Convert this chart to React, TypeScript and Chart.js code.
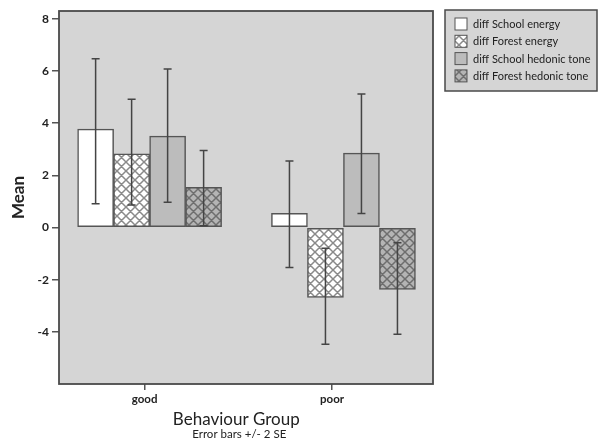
import React, { useEffect, useRef } from "react";
import { Chart, registerables } from "chart.js";

Chart.register(...registerables);

const categories = ["good", "poor"];
const seriesNames = [
  "diff School energy",
  "diff Forest energy",
  "diff School hedonic tone",
  "diff Forest hedonic tone",
];
const schoolEnergy = [3.77, 0.54];
const forestEnergy = [2.82, -2.68];
const schoolHedonic = [3.5, 2.85];
const forestHedonic = [1.54, -2.37];

// error bar bounds (+/- 2 SE)
const schoolEnergyLo = [0.91, -1.53];
const schoolEnergyHi = [6.47, 2.55];
const forestEnergyLo = [0.86, -4.48];
const forestEnergyHi = [4.92, -0.8];
const schoolHedonicLo = [0.97, 0.54];
const schoolHedonicHi = [6.08, 5.12];
const forestHedonicLo = [0.07, -4.09];
const forestHedonicHi = [2.95, -0.58];

const yTickValues = [-4, -2, 0, 2, 4, 6, 8];
const xTickValues = [-0.026, 0.941];

const FONT = "Lato, 'DejaVu Sans', sans-serif";

function makeHatch(bg: string, line: string): CanvasPattern | string {
  const s = 9;
  const c = document.createElement("canvas");
  c.width = s;
  c.height = s;
  const g = c.getContext("2d");
  if (!g) return bg;
  g.fillStyle = bg;
  g.fillRect(0, 0, s, s);
  g.strokeStyle = line;
  g.lineWidth = 1.5;
  g.beginPath();
  for (const o of [-s, 0, s]) {
    g.moveTo(o, 0);
    g.lineTo(o + s, s);
    g.moveTo(o + s, 0);
    g.lineTo(o, s);
  }
  g.stroke();
  return g.createPattern(c, "repeat") || bg;
}

export default function App() {
  const ref = useRef<HTMLCanvasElement | null>(null);

  useEffect(() => {
    if (!ref.current) return;
    const fills = [
      "#ffffff",
      makeHatch("#ffffff", "#8a8a8a"),
      "#bcbcbc",
      makeHatch("#b4b4b4", "#6e6e6e"),
    ];
    const values = [schoolEnergy, forestEnergy, schoolHedonic, forestHedonic];
    const los = [schoolEnergyLo, forestEnergyLo, schoolHedonicLo, forestHedonicLo];
    const his = [schoolEnergyHi, forestEnergyHi, schoolHedonicHi, forestHedonicHi];

    const plotBg = {
      id: "plotBg",
      beforeDraw(chart: any) {
        const { ctx, chartArea } = chart;
        const { left, top, right, bottom } = chartArea;
        ctx.save();
        ctx.fillStyle = "#d5d5d5";
        ctx.fillRect(left, top, right - left, bottom - top);
        ctx.restore();
      },
      afterDraw(chart: any) {
        const { ctx, chartArea } = chart;
        const { left, top, right, bottom } = chartArea;
        ctx.save();
        ctx.strokeStyle = "#4a4a4a";
        ctx.lineWidth = 1.8;
        ctx.strokeRect(left, top, right - left, bottom - top);

        // legend box
        const lx = 445, ly = 10, lw = 152, lh = 81;
        ctx.fillStyle = "#d5d5d5";
        ctx.fillRect(lx, ly, lw, lh);
        ctx.strokeStyle = "#4a4a4a";
        ctx.lineWidth = 1.5;
        ctx.strokeRect(lx, ly, lw, lh);
        ctx.font = `11px ${FONT}`;
        ctx.textBaseline = "middle";
        ctx.textAlign = "left";
        seriesNames.forEach((name, i) => {
          const cy = 24 + i * 17.3;
          ctx.fillStyle = fills[i] as any;
          ctx.fillRect(455, cy - 6, 12, 12);
          ctx.strokeStyle = "#555";
          ctx.lineWidth = 1;
          ctx.strokeRect(455, cy - 6, 12, 12);
          ctx.fillStyle = "#222";
          ctx.fillText(name, 473, cy + 0.5);
        });

        // x titles centred between the category ticks
        const xs = chart.scales.x;
        const cx = (xs.getPixelForValue(xTickValues[0]) + xs.getPixelForValue(xTickValues[1])) / 2;
        ctx.fillStyle = "#222";
        ctx.textAlign = "center";
        ctx.font = `17px ${FONT}`;
        ctx.fillText("Behaviour Group", cx - 2, 420);
        ctx.font = `11.5px ${FONT}`;
        ctx.fillText("Error bars +/- 2 SE", cx + 1, 434);
        ctx.restore();
      },
    };

    const errorBars = {
      id: "errorBars",
      afterDatasetsDraw(chart: any) {
        const { ctx } = chart;
        const ys = chart.scales.y;
        ctx.save();
        ctx.strokeStyle = "#444";
        ctx.lineWidth = 1.5;
        chart.data.datasets.forEach((_: any, i: number) => {
          const meta = chart.getDatasetMeta(i);
          meta.data.forEach((bar: any, j: number) => {
            const x = bar.x;
            const y1 = ys.getPixelForValue(los[i][j]);
            const y2 = ys.getPixelForValue(his[i][j]);
            ctx.beginPath();
            ctx.moveTo(x, y1);
            ctx.lineTo(x, y2);
            ctx.moveTo(x - 4, y1);
            ctx.lineTo(x + 4, y1);
            ctx.moveTo(x - 4, y2);
            ctx.lineTo(x + 4, y2);
            ctx.stroke();
          });
        });
        ctx.restore();
      },
    };

    const chart = new Chart(ref.current, {
      type: "bar",
      data: {
        datasets: seriesNames.map((name, i) => ({
          label: name,
          data: values[i].map((v, j) => ({ x: j, y: v })),
          backgroundColor: fills[i] as any,
          borderColor: "#555",
          borderWidth: 1.5,
          borderSkipped: false,
          barThickness: 36,
        })),
      },
      options: {
        animation: false,
        responsive: false,
        maintainAspectRatio: false,
        layout: { padding: { top: 11, right: 165, left: 0, bottom: 0 } },
        plugins: {
          legend: { display: false },
          tooltip: { enabled: false },
        },
        scales: {
          x: {
            type: "linear",
            min: -0.4675,
            max: 1.462,
            offset: false,
            grid: {
              offset: false,
              drawOnChartArea: false,
              drawTicks: true,
              tickLength: 6,
              color: "#555",
              lineWidth: 1.5,
            },
            border: { display: false },
            afterBuildTicks(scale: any) {
              scale.ticks = xTickValues.map((v) => ({ value: v }));
            },
            afterFit(scale: any) {
              scale.height = 59;
            },
            ticks: {
              padding: 2,
              color: "#222",
              font: { family: FONT, size: 11.5, weight: "bold" },
              callback: (_v: any, i: number) => categories[i],
            },
          },
          y: {
            min: -6,
            max: 8.3,
            grid: {
              drawOnChartArea: false,
              drawTicks: true,
              tickLength: 7,
              color: "#555",
              lineWidth: 1.5,
            },
            border: { display: false },
            afterBuildTicks(scale: any) {
              scale.ticks = yTickValues.map((v) => ({ value: v }));
            },
            afterFit(scale: any) {
              scale.width = 59;
            },
            ticks: {
              padding: 3,
              color: "#222",
              font: { family: FONT, size: 12, weight: "bold" },
            },
            title: {
              display: true,
              text: "Mean",
              color: "#222",
              padding: { top: 8, bottom: 0 },
              font: { family: FONT, size: 17, weight: "bold" },
            },
          },
        },
      } as any,
      plugins: [plotBg, errorBars],
    });
    return () => chart.destroy();
  }, []);

  return (
    <div style={{ position: "fixed", left: 0, top: 0, width: 598, height: 443, background: "#fff" }}>
      <canvas ref={ref} width={598} height={443} style={{ width: 598, height: 443 }} />
    </div>
  );
}
